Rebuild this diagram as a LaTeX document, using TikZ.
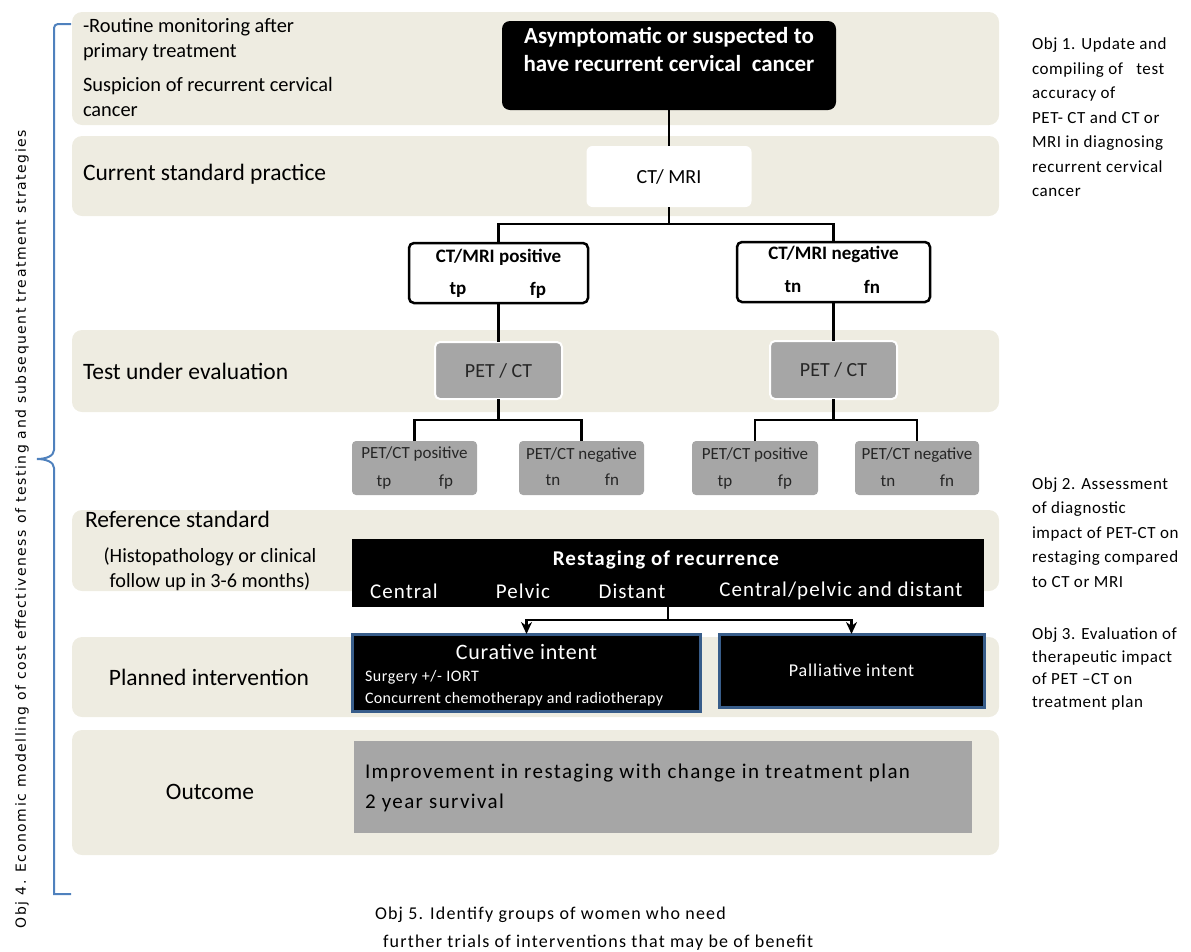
\documentclass[tikz,border=0pt]{standalone}
\usepackage{fontspec}
\setmainfont{Carlito}
\newfontfamily\djv[LetterSpace=11]{DejaVu Sans}
\newfontfamily\lsA[LetterSpace=2]{Carlito}
\newfontfamily\lsB[LetterSpace=3.5]{Carlito}
\newfontfamily\lsC[LetterSpace=5]{Carlito}
\newfontfamily\lsD[LetterSpace=6.6]{Carlito}
\usetikzlibrary{arrows.meta}
\definecolor{bandc}{HTML}{EEECE1}
\definecolor{gbox}{HTML}{A6A6A6}
\definecolor{bord}{HTML}{385D8A}
\definecolor{brk}{HTML}{4F81BD}
\definecolor{gtxt}{HTML}{262626}
\newcommand{\fs}[2]{\fontsize{#1}{#2}\selectfont}
\begin{document}
\begin{tikzpicture}[x=1pt,y=-1pt,
  every node/.style={inner sep=0pt, outer sep=0pt},
  bandfill/.style={fill=bandc, rounded corners=10pt},
  conn/.style={line width=2.5pt, draw=black},
  arr/.style={conn, -{Stealth[length=12pt,width=11pt]}},
  heading/.style={font=\fs{23.5}{28}},
  bandtxt/.style={font=\fs{20.4}{25}, align=left, anchor=west},
  objtxt/.style={font=\lsB\fs{17}{24.5}, align=left, anchor=west},
  treebox/.style={draw=black, line width=2.5pt, fill=white, rounded corners=5pt},
  petbox/.style={fill=gbox, draw=white, line width=2pt, rounded corners=5pt, font=\fs{20}{24}, text=gtxt},
  subbox/.style={fill=gbox, rounded corners=4pt},
  subtxt/.style={font=\fs{17}{20}, text=gtxt},
  intent/.style={fill=black, draw=bord, line width=3pt, text=white}
]
\useasboundingbox (0,0) rectangle (1191,951);
% bands
\fill[bandfill] (72,12) rectangle (999,125);
\fill[bandfill] (72,136) rectangle (999,216);
\fill[bandfill] (72,330) rectangle (999,412);
\fill[bandfill] (72,510) rectangle (999,591);
\fill[bandfill] (72,637) rectangle (999,717);
\fill[bandfill] (72,730) rectangle (999,855);

% band labels
\node[bandtxt] (b1a) at (83,39.5) {-Routine monitoring after\\primary treatment};
\node[bandtxt] (b1b) at (83,97) {Suspicion of recurrent cervical\\cancer};
\node[heading, anchor=west] (h2) at (83,174) {Current standard practice};
\node[heading, anchor=west] (h3) at (83,371) {Test under evaluation};
\node[heading, anchor=west] (h4) at (85,519) {Reference standard};
\node[font=\fs{20.2}{25}, align=center] (h4b) at (210,569.5) {(Histopathology or clinical\\follow up in 3-6 months)};
\node[heading] (h5) at (209,677) {Planned intervention};
\node[heading] (h6) at (210,792) {Outcome};

% top box
\node[fill=black, rounded corners=8pt, minimum width=334pt, minimum height=89pt] (topbox) at (669,65.5) {};
\node[font=\bfseries\fs{23}{28}, text=white, align=center] (toptxt) at (669,49) {Asymptomatic or suspected to\\have recurrent cervical\ \ cancer};

% CT/MRI
\node[fill=white, rounded corners=6pt, minimum width=165pt, minimum height=61pt, font=\fs{20}{24}] (ctmri) at (669,176.5) {CT/ MRI};

% positive / negative
\node[treebox, minimum width=179pt, minimum height=60pt] (pos) at (498.5,273) {};
\node[font=\bfseries\fs{19}{22}] (post) at (498.5,257) {CT/MRI positive};
\node[font=\bfseries\fs{19}{22}] (tp1) at (458,290) {tp};
\node[font=\bfseries\fs{19}{22}] (fp1) at (538,290) {fp};
\node[treebox, minimum width=193pt, minimum height=60pt] (neg) at (833.5,272) {};
\node[font=\bfseries\fs{19}{22}] (negt) at (833.5,254) {CT/MRI negative};
\node[font=\bfseries\fs{19}{22}] (tn1) at (793,287) {tn};
\node[font=\bfseries\fs{19}{22}] (fn1) at (872,287) {fn};

% PET/CT
\node[petbox, minimum width=127pt, minimum height=57pt] (petL) at (498.5,370.5) {PET / CT};
\node[petbox, minimum width=127pt, minimum height=58pt] (petR) at (833.5,370) {PET / CT};

% sub boxes
\node[subbox, minimum width=125pt, minimum height=54pt] (lp) at (414.5,468) {};
\node[subbox, minimum width=125pt, minimum height=54pt] (ln) at (581.5,468) {};
\node[subbox, minimum width=126pt, minimum height=54pt] (rp) at (755,468) {};
\node[subbox, minimum width=124pt, minimum height=54pt] (rn) at (917,468) {};
\node[subtxt] (lpt) at (414.5,454) {PET/CT positive};
\node[subtxt] (lp1) at (384,482) {tp};
\node[subtxt] (lp2) at (446,482) {fp};
\node[subtxt] (lnt) at (581.5,455) {PET/CT negative};
\node[subtxt] (ln1) at (553,480) {tn};
\node[subtxt] (ln2) at (612,480) {fn};
\node[subtxt] (rpt) at (755,455) {PET/CT positive};
\node[subtxt] (rp1) at (725,482) {tp};
\node[subtxt] (rp2) at (785,482) {fp};
\node[subtxt] (rnt) at (917,455) {PET/CT negative};
\node[subtxt] (rn1) at (888,481) {tn};
\node[subtxt] (rn2) at (947,481) {fn};

% restaging
\node[fill=black, minimum width=632pt, minimum height=68pt] (restage) at (668,573) {};
\node[font=\lsC\bfseries\fs{21}{24}, text=white] (rtitle) at (666,560) {Restaging of recurrence};
\node[font=\lsC\fs{21}{24}, text=white] (r1) at (404,591) {Central};
\node[font=\lsC\fs{21}{24}, text=white] (r2) at (523,591) {Pelvic};
\node[font=\lsC\fs{21}{24}, text=white] (r3) at (632,591) {Distant};
\node[font=\lsC\fs{21}{24}, text=white] (r4) at (841,591) {Central/pelvic and distant};

% intents
\node[intent, minimum width=348pt, minimum height=77pt] (cur) at (526.5,672.5) {};
\node[font=\lsB\fs{22}{26}, text=white] (curt) at (526.5,652) {Curative intent};
\node[font=\lsB\fs{16}{20}, text=white, anchor=west] (cur1) at (365,677) {Surgery +/- IORT};
\node[font=\lsA\fs{16}{20}, text=white, anchor=west] (cur2) at (365,699) {Concurrent chemotherapy and radiotherapy};
\node[intent, minimum width=265pt, minimum height=73pt] (pal) at (851.5,670.5) {};
\node[font=\lsC\fs{18}{22}, text=white] (palt) at (851.5,670) {Palliative intent};

% outcome
\node[fill=gbox, minimum width=618pt, minimum height=92pt] (outbox) at (663,787) {};
\node[font=\lsD\fs{21}{30}, align=left, anchor=west] (outt) at (365,788) {Improvement in restaging with change in treatment plan\\2 year survival};

% connectors
\coordinate (s1) at (669,224);
\coordinate (s2) at (498.5,420);
\coordinate (s3) at (833.5,420);
\coordinate (s4) at (668,620);
\draw[conn] (topbox.south) -- (ctmri.north);
\draw[conn] (ctmri.south) -- (s1);
\draw[conn] (pos.north) |- (s1) -| (neg.north);
\draw[conn] (pos.south) -- (petL.north);
\draw[conn] (neg.south) -- (petR.north);
\draw[conn] (petL.south) -- (s2);
\draw[conn] (lp.north) |- (s2) -| (ln.north);
\draw[conn] (petR.south) -- (s3);
\draw[conn] (rp.north) |- (s3) -| (rn.north);
\draw[conn] (restage.south) -- (s4);
\draw[arr] (s4) -| (cur.north);
\draw[arr] (s4) -| (pal.north);

% objectives
\node[objtxt] (obj1) at (1032,117.5) {Obj 1. Update and\\compiling of\ \ \ test\\accuracy of\\PET- CT and CT or\\MRI in diagnosing\\recurrent cervical\\cancer};
\node[objtxt] (obj2) at (1032,532.5) {Obj 2. Assessment\\of diagnostic\\impact of PET-CT on\\restaging compared\\to CT or MRI};
\node[objtxt, font=\lsB\fs{17}{22.7}] (obj3) at (1032,669) {Obj 3. Evaluation of\\therapeutic impact\\of PET –CT on\\treatment plan};
\node[font=\lsD\fs{18}{28}, align=left, anchor=west] (obj5) at (375,929) {Obj 5. Identify groups of women who need\\\hspace*{8pt}further trials of interventions that may be of benefit};
\node[font=\djv\fs{14}{16}, rotate=90] (obj4) at (22,529) {Obj 4. Economic modelling of cost effectiveness of testing and subsequent treatment strategies};

% bracket
\draw[brk, line width=2pt] (71,24) -- (58,24) to[out=180,in=90] (54,28) -- (54,450)
  .. controls (54,456) and (46,459) .. (37,459)
  .. controls (46,459) and (54,462) .. (54,468) -- (54,894) -- (71,894);
\end{tikzpicture}
\end{document}
